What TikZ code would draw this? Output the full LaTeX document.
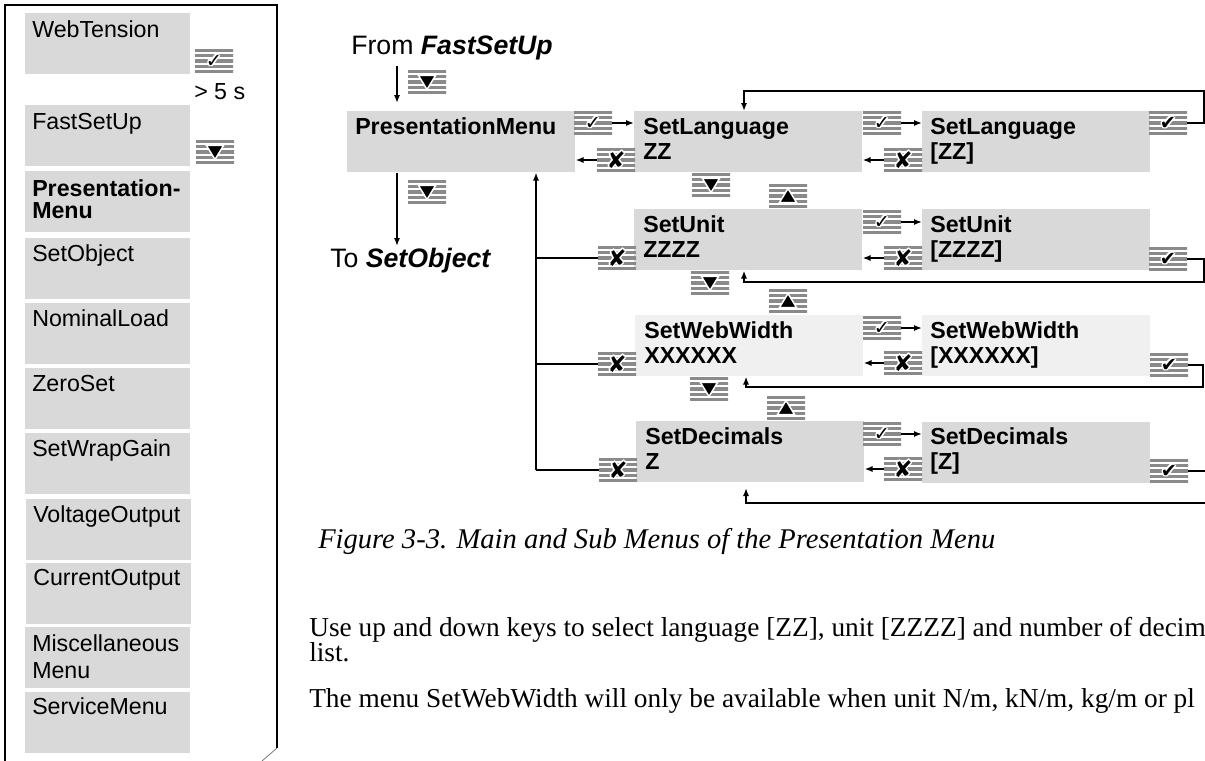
\documentclass[tikz,border=0pt]{standalone}
\usepackage{fontspec}
\setmainfont{Liberation Sans}
\newfontfamily\serif{Liberation Serif}
\newfontfamily\sym{DejaVu Sans}
\usetikzlibrary{arrows.meta,calc}
\definecolor{boxgray}{HTML}{D9D9D9}
\definecolor{boxlight}{HTML}{F0F0F0}
\definecolor{stripe}{HTML}{8A8A8A}
\newcommand\hlx[3]{\rlap{\hspace*{#1}\raisebox{#2}{\color{white}#3}}}
\newcommand\halo[1]{\hlx{-1.2pt}{0pt}{#1}\hlx{1.2pt}{0pt}{#1}\hlx{0pt}{1.2pt}{#1}\hlx{0pt}{-1.2pt}{#1}\hlx{-.85pt}{.85pt}{#1}\hlx{.85pt}{.85pt}{#1}\hlx{-.85pt}{-.85pt}{#1}\hlx{.85pt}{-.85pt}{#1}#1}
\newcommand\ckkey{\halo{\sym\fontsize{14.5pt}{14.5pt}\selectfont ✓}}
\newcommand\bckkey{\halo{\sym\fontsize{14.5pt}{14.5pt}\selectfont ✔}}
\newcommand\xkey{\halo{\sym\fontsize{17pt}{17pt}\selectfont ✘}}
\newcommand\stripes{\foreach \k in {0,...,4}{\fill[stripe] ($(path picture bounding box.north west)+(0,\k*5.2)$) rectangle ++(40,3.2);}}
\tikzset{
  lbox/.style={fill=boxgray, draw=none, minimum width=123.75pt, minimum height=45.75pt, inner sep=0pt, anchor=north west},
  mbox/.style={fill=boxgray, draw=none, minimum width=171pt, minimum height=45.75pt, inner sep=0pt, anchor=north west},
  lightbox/.style={mbox, fill=boxlight},
  ltext/.style={anchor=base west, inner sep=0pt, font=\fontsize{17.4pt}{21pt}\selectfont},
  btext/.style={ltext, font=\fontsize{17.4pt}{21pt}\selectfont\bfseries},
  ftext/.style={anchor=base west, inner sep=0pt, font=\fontsize{20pt}{24pt}\selectfont},
  body/.style={anchor=base west, inner sep=0pt, font=\serif\fontsize{20.5pt}{24pt}\selectfont},
  keybox/.style={minimum width=28.5pt, minimum height=18pt, inner sep=0pt,
    path picture={\stripes}},
  dnbox/.style={minimum width=28.5pt, minimum height=18pt, inner sep=0pt,
    path picture={\stripes
      \filldraw[fill=black, draw=white, line width=1.1pt, line join=miter]
        ($(path picture bounding box.center)+(-8.5,-6.5)$) -- ++(17,0) -- ($(path picture bounding box.center)+(0,7.5)$) -- cycle;}},
  upbox/.style={minimum width=28.5pt, minimum height=18pt, inner sep=0pt,
    path picture={\stripes
      \filldraw[fill=black, draw=white, line width=1.1pt, line join=miter]
        ($(path picture bounding box.center)+(-8.5,6.5)$) -- ++(17,0) -- ($(path picture bounding box.center)+(0,-7.5)$) -- cycle;}},
  conn/.style={line width=1.4pt},
  arr/.style={conn, -{Latex[length=6pt,width=4.6pt]}}
}
\begin{document}
\begin{tikzpicture}[x=0.75pt,y=-0.75pt]
\useasboundingbox (0,0) rectangle (1205,760);
% ---------- left panel ----------
\draw[line width=1.4pt] (5,765) -- (5,5) -- (277,5) -- (277,748);
\draw[line width=0.5pt, black!60] (277,748) -- (262,761);
\node[lbox] (lb1) at (25,13) {};  \node[ltext] (lt1) at (32,37) {WebTension};
\node[lbox] (lb2) at (25,105) {}; \node[ltext] (lt2) at (32,129) {FastSetUp};
\node[lbox] (lb3) at (25,171) {}; \node[btext] (lt3a) at (32,196) {Presentation-};
\node[btext] (lt3b) at (32,218) {Menu};
\node[lbox] (lb4) at (25,238) {}; \node[ltext] (lt4) at (32,261) {SetObject};
\node[lbox] (lb5) at (25,303) {}; \node[ltext] (lt5) at (32,326) {NominalLoad};
\node[lbox] (lb6) at (25,368) {}; \node[ltext] (lt6) at (32,391) {ZeroSet};
\node[lbox] (lb7) at (25,433) {}; \node[ltext] (lt7) at (32,456) {SetWrapGain};
\node[lbox] (lb8) at (26,499) {}; \node[ltext] (lt8) at (33,522) {VoltageOutput};
\node[lbox] (lb9) at (26,563) {}; \node[ltext] (lt9) at (33,585) {CurrentOutput};
\node[lbox] (lb10) at (25,627) {}; \node[ltext] (lt10a) at (32,651) {Miscellaneous};
\node[ltext] (lt10b) at (32,678) {Menu};
\node[lbox] (lb11) at (25,692) {}; \node[ltext] (lt11) at (32,714) {ServiceMenu};
\node[keybox] (pk1) at (214,61) {\ckkey};
\node[ltext] (gt) at (194,99) {> 5 s};
\node[dnbox] (pk2) at (215,152) {};
% ---------- main diagram ----------
\node[ftext] (from) at (351,54) {From \textbf{\textit{FastSetUp}}};
\node[dnbox] (fk) at (427,82) {};
\node[mbox] (pm) at (347,111) {};
\node[btext] (pmt) at (355,134) {PresentationMenu};
\node[dnbox] (pmk) at (427,192) {};
\node[ftext] (to) at (330,267) {To \textbf{\textit{SetObject}}};
\coordinate (fa) at (397,66);
\coordinate (fb) at (397,103);
\coordinate (tb) at (397,246);
\draw[arr] (fa) -- (fb);
\draw[arr] (pm.south -| fa) -- (tb);
% left column boxes
\node[mbox] (L0) at (634,111) {};
\node[btext] (L0a) at (643,134) {SetLanguage}; \node[btext] (L0b) at (643,159) {ZZ};
\node[mbox] (L1) at (634,209) {};
\node[btext] (L1a) at (643,232) {SetUnit}; \node[btext] (L1b) at (643,257) {ZZZZ};
\node[lightbox] (L2) at (635,315) {};
\node[btext] (L2a) at (644,338) {SetWebWidth}; \node[btext] (L2b) at (644,363) {XXXXXX};
\node[mbox] (L3) at (636,421) {};
\node[btext] (L3a) at (645,444) {SetDecimals}; \node[btext] (L3b) at (645,469) {Z};
% right column boxes
\node[mbox] (R0) at (922,111) {};
\node[btext] (R0a) at (930,134) {SetLanguage}; \node[btext] (R0b) at (930,159) {[ZZ]};
\node[mbox] (R1) at (922,209) {};
\node[btext] (R1a) at (930,232) {SetUnit}; \node[btext] (R1b) at (930,257) {[ZZZZ]};
\node[lightbox] (R2) at (922,315) {};
\node[btext] (R2a) at (930,338) {SetWebWidth}; \node[btext] (R2b) at (930,363) {[XXXXXX]};
\node[mbox] (R3) at (922,422) {};
\node[btext] (R3a) at (930,444) {SetDecimals}; \node[btext] (R3b) at (930,469) {[Z]};
% up/down keys between rows
\node[dnbox] (d0) at (711,185) {}; \node[upbox] (u0) at (788,196) {};
\node[dnbox] (d1) at (710,283) {}; \node[upbox] (u1) at (788,301) {};
\node[dnbox] (d2) at (709,389) {}; \node[upbox] (u2) at (786,408) {};
% presentation menu -> language
\node[keybox] (c0p) at (593,123) {\ckkey};
\node[keybox] (x0p) at (616,160) {\xkey};
\draw[arr] (c0p.east) -- (L0.west |- c0p.east);
\draw[arr] (x0p.west) -- (pm.east |- x0p.west);
% escape keys of lower rows and bus
\node[keybox] (x1p) at (617,258) {\xkey};
\node[keybox] (x2p) at (617,364) {\xkey};
\node[keybox] (x3p) at (618,470) {\xkey};
\coordinate (bus) at (536,470);
\draw[arr] (bus) -- (bus |- pm.south);
\draw[conn] (x1p.west) -- (x1p.west -| bus);
\draw[conn] (x2p.west) -- (x2p.west -| bus);
\draw[conn] (x3p.west) -- (bus);
% middle keys
\node[keybox] (c0) at (882,123) {\ckkey}; \node[keybox] (m0) at (903,160) {\xkey};
\node[keybox] (c1) at (882,222) {\ckkey}; \node[keybox] (m1) at (903,258) {\xkey};
\node[keybox] (c2) at (882,328) {\ckkey}; \node[keybox] (m2) at (903,363) {\xkey};
\node[keybox] (c3) at (882,434) {\ckkey}; \node[keybox] (m3) at (903,469) {\xkey};
\draw[arr] (c0.east) -- (R0.west |- c0.east);
\draw[arr] (c1.east) -- (R1.west |- c1.east);
\draw[arr] (c2.east) -- (R2.west |- c2.east);
\draw[arr] (c3.east) -- (R3.west |- c3.east);
\draw[arr] (m0.west) -- (L0.east |- m0.west);
\draw[arr] (m1.west) -- (L1.east |- m1.west);
\draw[arr] (m2.west) -- (L2.east |- m2.west);
\draw[arr] (m3.west) -- (L3.east |- m3.west);
% right confirm keys and loops
\node[keybox] (k0) at (1168,123) {\bckkey};
\node[keybox] (k1) at (1168,259) {\bckkey};
\node[keybox] (k2) at (1169,365) {\bckkey};
\node[keybox] (k3) at (1169,471) {\bckkey};
\coordinate (lp0) at (744,91);
\coordinate (lp1) at (744,282);
\coordinate (lp2) at (746,387);
\coordinate (lp3) at (746,503);
\coordinate (lp3e) at (746,488);
\draw[arr] (k0.east) -- (1204,123) -- (1204,91) -- (lp0) -- (lp0 |- L0.north);
\draw[arr] (k1.east) -- (1204,259) -- (1204,282) -- (lp1) -- (lp1 |- L1.south);
\draw[arr] (k2.east) -- (1203,365) -- (1203,387) -- (lp2) -- (lp2 |- L2.south);
\draw[arr] (k3.east) -- (1215,471) -- (1215,503) -- (lp3) -- (lp3e);
% ---------- caption and text ----------
\node[body, font=\serif\fontsize{21.4pt}{25pt}\selectfont] (cap) at (318,548) {\itshape Figure 3-3. Main and Sub Menus of the Presentation Menu};
\node[body] (p1) at (309,636) {Use up and down keys to select language [ZZ], unit [ZZZZ] and number of decim};
\node[body] (p2) at (309,661) {list.};
\node[body] (p3) at (309,707) {The menu SetWebWidth will only be available when unit N/m, kN/m, kg/m or pl};
\end{tikzpicture}
\end{document}
